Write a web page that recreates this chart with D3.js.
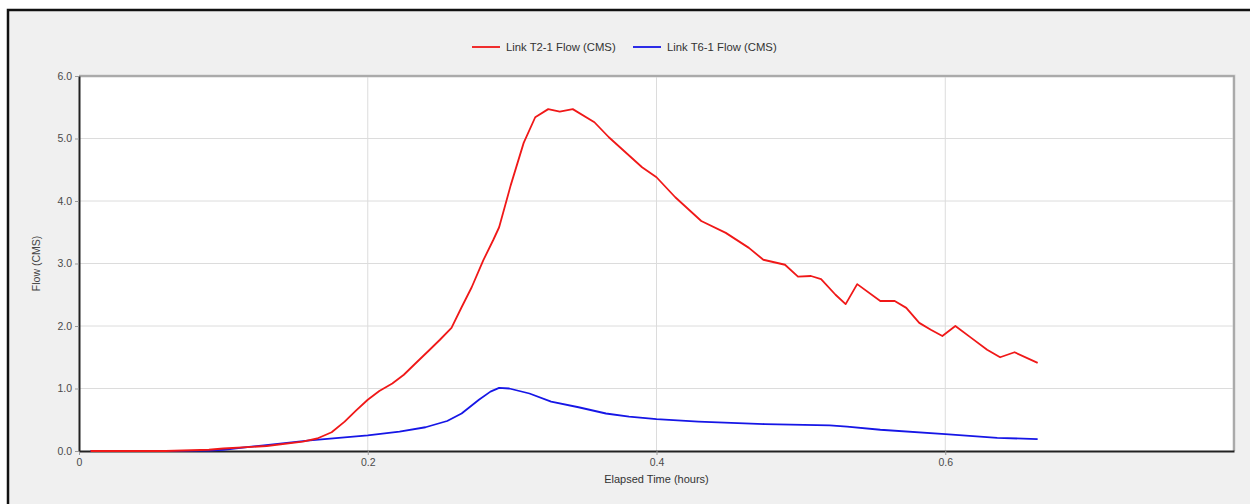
<!DOCTYPE html>
<html>
<head>
<meta charset="utf-8">
<script src="https://cdn.jsdelivr.net/npm/d3@7"></script>
<style>
    html, body { margin: 0; padding: 0; background: #fff; }
    svg { display: block; font-family: 'Liberation Sans', Arial, sans-serif; }
</style>
</head>
<body>
<div id="chart"></div>
<script>
// hours, flow (CMS)
const t21Time = [0.008, 0.06, 0.09, 0.1, 0.13, 0.155, 0.165, 0.175, 0.184, 0.192, 0.2, 0.208, 0.217,
    0.225, 0.233, 0.242, 0.25, 0.258, 0.265, 0.272, 0.28, 0.287, 0.291, 0.299, 0.308, 0.316, 0.325,
    0.333, 0.342, 0.357, 0.367, 0.39, 0.4, 0.413, 0.431, 0.448, 0.464, 0.474, 0.489, 0.498, 0.507,
    0.514, 0.524, 0.531, 0.539, 0.555, 0.565, 0.573, 0.582, 0.59, 0.598, 0.607, 0.618, 0.629, 0.638,
    0.648, 0.664];
const t21Flow = [0, 0, 0.02, 0.04, 0.08, 0.15, 0.2, 0.3, 0.47, 0.65, 0.82, 0.96, 1.08,
    1.22, 1.4, 1.6, 1.78, 1.97, 2.3, 2.62, 3.05, 3.38, 3.58, 4.25, 4.93, 5.34, 5.47,
    5.43, 5.47, 5.26, 5.02, 4.54, 4.38, 4.06, 3.68, 3.49, 3.25, 3.06, 2.98, 2.79, 2.8,
    2.75, 2.5, 2.35, 2.67, 2.4, 2.4, 2.29, 2.05, 1.94, 1.84, 2.0, 1.81, 1.62, 1.5,
    1.58, 1.41];

const t61Time = [0.008, 0.09, 0.1, 0.128, 0.16, 0.2, 0.222, 0.24, 0.255, 0.265, 0.277, 0.285, 0.291,
    0.298, 0.312, 0.327, 0.346, 0.365, 0.381, 0.4, 0.429, 0.475, 0.52, 0.532, 0.555, 0.6, 0.636, 0.664];
const t61Flow = [0, 0.005, 0.02, 0.09, 0.17, 0.25, 0.31, 0.38, 0.48, 0.6, 0.82, 0.95, 1.01,
    1.0, 0.92, 0.79, 0.7, 0.6, 0.55, 0.51, 0.47, 0.43, 0.41, 0.39, 0.34, 0.27, 0.21, 0.19];

const xTicks = [0, 0.2, 0.4, 0.6];
const yTicks = [0, 1, 2, 3, 4, 5, 6];

const series = [
    { name: 'Link T2-1 Flow (CMS)', color: '#f01818', time: t21Time, flow: t21Flow },
    { name: 'Link T6-1 Flow (CMS)', color: '#1616e6', time: t61Time, flow: t61Flow }
];

const width = 1250, height = 504;
const plot = { left: 79, top: 76, right: 1234, bottom: 451 };

const svg = d3.select('#chart').append('svg')
    .attr('width', width)
    .attr('height', height);

// panel background + outer frame (only top and left edges are in view)
svg.append('rect')
    .attr('x', 8).attr('y', 10)
    .attr('width', width).attr('height', height)
    .attr('fill', '#f0f0f0')
    .attr('stroke', '#111')
    .attr('stroke-width', 2.5);

const x = d3.scaleLinear().domain([0, 0.8]).range([plot.left, plot.right]);
const y = d3.scaleLinear().domain([0, 6]).range([plot.bottom, plot.top]);

svg.append('rect')
    .attr('x', plot.left).attr('y', plot.top)
    .attr('width', plot.right - plot.left).attr('height', plot.bottom - plot.top)
    .attr('fill', '#fff');

// grid
svg.append('g')
    .selectAll('line')
    .data(yTicks.slice(1, -1))
    .join('line')
    .attr('x1', plot.left).attr('x2', plot.right)
    .attr('y1', d => y(d)).attr('y2', d => y(d))
    .attr('stroke', '#dcdcdc');

svg.append('g')
    .selectAll('line')
    .data(xTicks.slice(1))
    .join('line')
    .attr('y1', plot.top).attr('y2', plot.bottom)
    .attr('x1', d => x(d)).attr('x2', d => x(d))
    .attr('stroke', '#dcdcdc');

// top / right border (grey, with soft shadow)
svg.append('path')
    .attr('d', `M${plot.left},${plot.top}H${plot.right}V${plot.bottom}`)
    .attr('fill', 'none')
    .attr('stroke', '#d4d4d4')
    .attr('stroke-width', 3);
svg.append('path')
    .attr('d', `M${plot.left},${plot.top}H${plot.right}V${plot.bottom}`)
    .attr('fill', 'none')
    .attr('stroke', '#9c9c9c')
    .attr('stroke-width', 1.5);

// axes
const xAxis = d3.axisBottom(x)
    .tickValues(xTicks)
    .tickSize(4)
    .tickPadding(4)
    .tickFormat(d => d === 0 ? '0' : d3.format('.1f')(d));

const yAxis = d3.axisLeft(y)
    .tickValues(yTicks)
    .tickSize(4)
    .tickPadding(3)
    .tickFormat(d3.format('.1f'));

const styleAxis = g => {
    g.select('.domain').attr('stroke', '#222').attr('stroke-width', 2);
    g.selectAll('.tick line').attr('stroke', '#999');
    g.selectAll('.tick text')
        .attr('fill', '#4a4a4a')
        .attr('font-size', 10.5)
        .attr('font-family', "'Liberation Sans', Arial, sans-serif");
};

svg.append('g')
    .attr('transform', `translate(0,${plot.bottom})`)
    .call(xAxis.tickSizeOuter(0))
    .call(styleAxis);

svg.append('g')
    .attr('transform', `translate(${plot.left},0)`)
    .call(yAxis.tickSizeOuter(0))
    .call(styleAxis);

// series
const line = d3.line()
    .x(d => x(d[0]))
    .y(d => y(d[1]));

svg.append('g')
    .selectAll('path')
    .data(series.slice().reverse())
    .join('path')
    .attr('d', s => line(d3.zip(s.time, s.flow)))
    .attr('fill', 'none')
    .attr('stroke', s => s.color)
    .attr('stroke-width', 1.8)
    .attr('stroke-linejoin', 'round');

// axis titles
svg.append('text')
    .attr('x', (plot.left + plot.right) / 2)
    .attr('y', 483)
    .attr('text-anchor', 'middle')
    .attr('font-size', 11)
    .attr('fill', '#333')
    .text('Elapsed Time (hours)');

svg.append('text')
    .attr('transform', `translate(40,${(plot.top + plot.bottom) / 2}) rotate(-90)`)
    .attr('text-anchor', 'middle')
    .attr('font-size', 10.5)
    .attr('fill', '#444')
    .text('Flow (CMS)');

// legend
const legendX = [472, 633];
const legend = svg.append('g')
    .selectAll('g')
    .data(series)
    .join('g')
    .attr('transform', (d, i) => `translate(${legendX[i]},47)`);

legend.append('line')
    .attr('x1', 0).attr('x2', 28)
    .attr('stroke', d => d.color)
    .attr('stroke-width', 1.8);

legend.append('text')
    .attr('x', 34)
    .attr('dy', '0.35em')
    .attr('font-size', 11.3)
    .attr('fill', '#333')
    .text(d => d.name);
</script>
</body>
</html>
